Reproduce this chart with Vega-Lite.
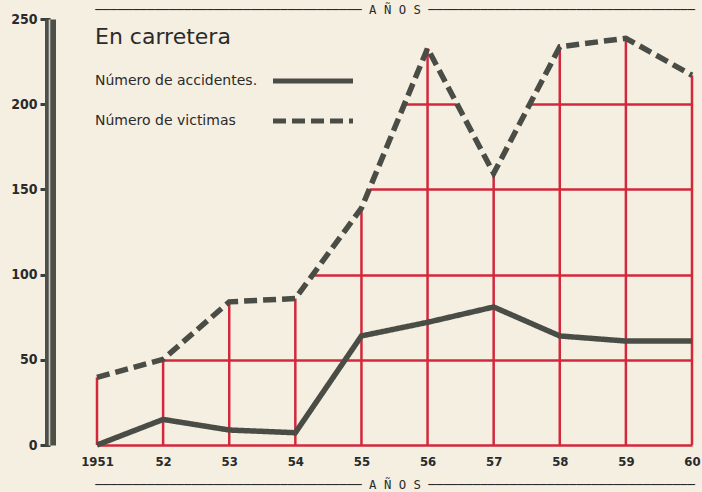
{
  "$schema": "https://vega.github.io/schema/vega-lite/v6.json",
  "width": 595,
  "height": 426,
  "autosize": {"type": "none"},
  "padding": {"left": 97, "top": 19, "right": 10, "bottom": 47},
  "background": "#f5efe1",
  "title": {"text": "En carretera", "anchor": "start", "frame": "group", "orient": "top", "baseline": "alphabetic", "offset": 0, "dx": -2, "dy": 63, "font": "DejaVu Sans", "fontSize": 22, "fontWeight": "normal", "color": "#2b2b2b"},
  "config": {"view": {"stroke": null}},
  "data": {"values": [
    {"year": 1951, "serie": "Número de accidentes.", "value": 0},
    {"year": 1952, "serie": "Número de accidentes.", "value": 15},
    {"year": 1953, "serie": "Número de accidentes.", "value": 8.8},
    {"year": 1954, "serie": "Número de accidentes.", "value": 7.2},
    {"year": 1955, "serie": "Número de accidentes.", "value": 64},
    {"year": 1956, "serie": "Número de accidentes.", "value": 72},
    {"year": 1957, "serie": "Número de accidentes.", "value": 81},
    {"year": 1958, "serie": "Número de accidentes.", "value": 64},
    {"year": 1959, "serie": "Número de accidentes.", "value": 61},
    {"year": 1960, "serie": "Número de accidentes.", "value": 61},
    {"year": 1951, "serie": "Número de victimas", "value": 39.7},
    {"year": 1952, "serie": "Número de victimas", "value": 50.3},
    {"year": 1953, "serie": "Número de victimas", "value": 84},
    {"year": 1954, "serie": "Número de victimas", "value": 86},
    {"year": 1955, "serie": "Número de victimas", "value": 139},
    {"year": 1956, "serie": "Número de victimas", "value": 232.8},
    {"year": 1957, "serie": "Número de victimas", "value": 159.4},
    {"year": 1958, "serie": "Número de victimas", "value": 233.7},
    {"year": 1959, "serie": "Número de victimas", "value": 238.7},
    {"year": 1960, "serie": "Número de victimas", "value": 217}
  ]},
  "layer": [
    {
      "transform": [{"filter": "datum.serie == 'Número de victimas'"}],
      "layer": [
        {
          "mark": {"type": "area", "fill": "#f5efe1", "interpolate": "linear"},
          "encoding": {
            "x": {"field": "year", "type": "quantitative", "scale": {"domain": [1951, 1960], "nice": false, "zero": false},
              "axis": {"orient": "bottom", "values": [1951, 1952, 1953, 1954, 1955, 1956, 1957, 1958, 1959, 1960], "format": "d",
                "labelExpr": "datum.value == 1951 ? datum.label : slice(datum.label, 2)",
                "domain": false, "ticks": false, "tickSize": 0, "grid": false,
                "labelFont": "DejaVu Sans Condensed", "labelFontWeight": "bold", "labelFontSize": 13, "labelColor": "#2a2a2a", "labelPadding": 10, "labelFlush": false, "labelOverlap": false,
                "title": "──────────────────────────────────── A Ñ O S ────────────────────────────────────",
                "titleFont": "DejaVu Sans Mono", "titleFontSize": 12.3, "titleFontWeight": "normal", "titleColor": "#2a2a2a", "titlePadding": 10}},
            "y": {"field": "value", "type": "quantitative", "scale": {"domain": [0, 250], "nice": false},
              "axis": {"orient": "left", "offset": 47, "values": [0, 50, 100, 150, 200, 250], "grid": true,
                "gridColor": {"condition": {"test": "datum.value == 250", "value": "transparent"}, "value": "#d3283b"}, "gridWidth": 2.5, "gridOpacity": 1,
                "domain": true, "domainColor": "#4c5049", "domainWidth": 11, "ticks": true, "tickSize": 10, "tickWidth": 3, "tickColor": "#3c3f3a",
                "labelFont": "DejaVu Sans Condensed", "labelFontWeight": "bold", "labelFontSize": 14, "labelColor": "#2a2a2a", "labelPadding": 3, "labelFlush": false, "title": null}},
            "y2": {"datum": 250}
          }
        },
        {
          "mark": {"type": "rule", "color": "#d3283b", "strokeWidth": 2.5},
          "encoding": {
            "x": {"field": "year", "type": "quantitative"},
            "y": {"field": "value", "type": "quantitative"},
            "y2": {"datum": 0}
          }
        }
      ]
    },
    {
      "mark": {"type": "line", "color": "#4a4c46", "strokeWidth": 5.5, "strokeCap": "butt"},
      "encoding": {
        "x": {"field": "year", "type": "quantitative",
          "axis": {"orient": "top", "labels": false, "ticks": false, "domain": false, "grid": false,
            "title": "──────────────────────────────────── A Ñ O S ────────────────────────────────────",
            "titleFont": "DejaVu Sans Mono", "titleFontSize": 12.3, "titleFontWeight": "normal", "titleColor": "#2a2a2a", "titlePadding": 3}},
        "y": {"field": "value", "type": "quantitative",
          "axis": {"orient": "left", "offset": 48, "labels": false, "ticks": false, "grid": false, "domain": true, "domainColor": "#cfd0c6", "domainWidth": 1.6, "title": null}},
        "strokeDash": {"field": "serie", "type": "nominal",
          "scale": {"domain": ["Número de accidentes.", "Número de victimas"], "range": [[1, 0], [13, 6]]},
          "legend": {"orient": "none", "legendX": 193.5, "legendY": 39.5, "title": null, "direction": "vertical", "symbolType": "M-2,0H2", "symbolSize": 1600, "symbolStrokeWidth": 5, "symbolStrokeColor": "#4a4c46", "symbolFillColor": "transparent", "labelAlign": "left", "labelOffset": -240.5, "labelLimit": 400, "labelFont": "DejaVu Sans", "labelFontSize": 14, "labelColor": "#2a2a2a", "rowPadding": 7, "padding": 0}}
      }
    }
  ],
  "resolve": {"axis": {"x": "independent", "y": "independent"}}
}
